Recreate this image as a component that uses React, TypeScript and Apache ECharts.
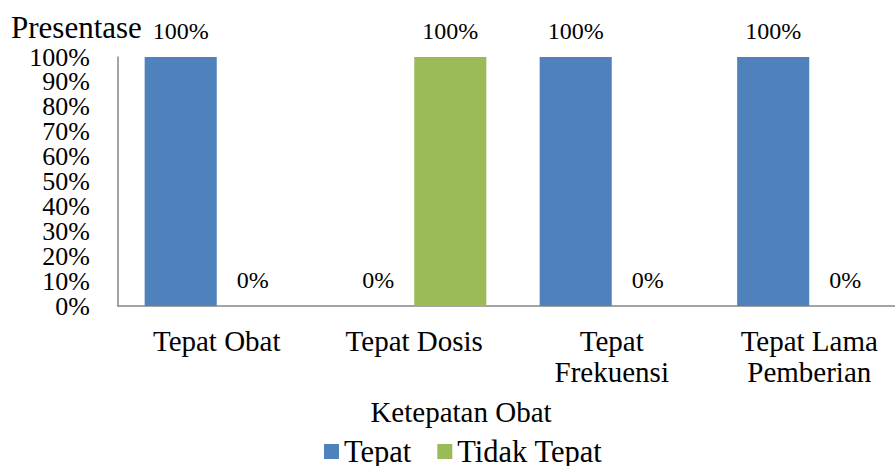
import React, { useEffect, useRef } from "react";
import * as echarts from "echarts";

const categories = ["Tepat Obat", "Tepat Dosis", "Tepat\nFrekuensi", "Tepat Lama\nPemberian"];
const tepatValues = [100, 0, 100, 100];
const tidakTepatValues = [0, 100, 0, 0];
const seriesNames = ["Tepat", "Tidak Tepat"];
const yTickLabels = ["0%", "10%", "20%", "30%", "40%", "50%", "60%", "70%", "80%", "90%", "100%"];
const yAxisTitle = "Presentase";
const xAxisTitle = "Ketepatan Obat";

const FONT = "'Liberation Serif', 'Times New Roman', serif";

export default function App() {
  const ref = useRef<HTMLDivElement>(null);
  useEffect(() => {
    if (!ref.current) return;
    const chart = echarts.init(ref.current, null, { renderer: "svg" });
    const labelCfg = {
      show: true,
      position: "top",
      distance: 14,
      formatter: "{c}%",
      color: "#000",
      fontFamily: FONT,
      fontSize: 24,
    };
    chart.setOption({
      animation: false,
      backgroundColor: "#fff",
      textStyle: { fontFamily: FONT },
      grid: { left: 118, right: 0, top: 57, bottom: 160, containLabel: false },
      legend: {
        data: seriesNames,
        left: 324,
        top: 436,
        padding: 0,
        icon: "rect",
        itemWidth: 15,
        itemHeight: 15,
        itemGap: 26,
        textStyle: { fontFamily: FONT, fontSize: 30.5, lineHeight: 28, color: "#000" },
      },
      graphic: [
        {
          type: "text",
          left: 11,
          top: 12,
          style: { text: yAxisTitle, font: `31px ${FONT}`, fill: "#000" },
        },
        {
          type: "text",
          x: 461,
          y: 412,
          style: {
            text: xAxisTitle,
            font: `29px ${FONT}`,
            fill: "#000",
            textAlign: "center",
            textVerticalAlign: "middle",
          },
        },
      ],
      xAxis: {
        type: "category",
        data: categories,
        axisLine: { show: true, lineStyle: { color: "#868686", width: 1.5 } },
        axisTick: { show: false },
        axisLabel: {
          interval: 0,
          margin: 19,
          color: "#000",
          fontFamily: FONT,
          fontSize: 29,
          lineHeight: 31,
        },
      },
      yAxis: [
        {
          type: "value",
          min: 0,
          max: 100,
          interval: 10,
          axisLine: { show: true, lineStyle: { color: "#868686", width: 1.5 } },
          axisTick: { show: false },
          splitLine: { show: false },
          axisLabel: { show: false },
        },
        {
          type: "category",
          position: "left",
          data: yTickLabels,
          boundaryGap: false,
          axisLine: { show: false },
          axisTick: { show: false },
          splitLine: { show: false },
          axisLabel: {
            interval: 0,
            margin: 28,
            color: "#000",
            fontFamily: FONT,
            fontSize: 26,
            lineHeight: 22,
          },
        },
      ],
      series: [
        {
          name: seriesNames[0],
          type: "bar",
          yAxisIndex: 0,
          data: tepatValues,
          itemStyle: { color: "#4F81BD" },
          barGap: "0%",
          barCategoryGap: "27%",
          label: labelCfg,
        },
        {
          name: seriesNames[1],
          type: "bar",
          yAxisIndex: 0,
          data: tidakTepatValues,
          itemStyle: { color: "#9BBB59" },
          barGap: "0%",
          barCategoryGap: "27%",
          label: labelCfg,
        },
      ],
    });
    return () => chart.dispose();
  }, []);
  return (
    <div style={{ position: "absolute", left: 0, top: 0, width: 895, height: 466, overflow: "hidden" }}>
      <div ref={ref} style={{ width: 908, height: 466 }} />
    </div>
  );
}
